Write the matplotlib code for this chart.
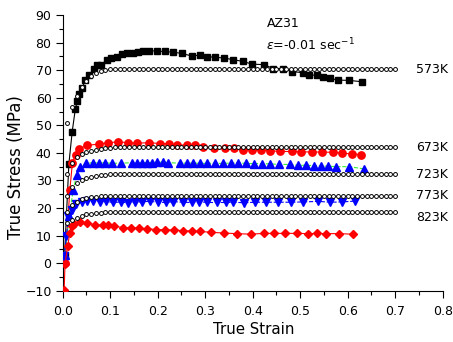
import matplotlib
matplotlib.use("Agg")
import matplotlib.pyplot as plt
from matplotlib.ticker import MultipleLocator

plt.rcParams['font.family'] = ['DejaVu Sans']

# ---------------- data ----------------
# 573K experimental (black squares)
e573 = [0.004, 0.013, 0.020, 0.0266, 0.031, 0.035, 0.041, 0.0476, 0.056, 0.066, 0.0716, 0.081,
        0.0926, 0.102, 0.114, 0.125, 0.136, 0.147, 0.1585, 0.170, 0.182, 0.198, 0.215, 0.232,
        0.251, 0.272, 0.288, 0.304, 0.321, 0.340, 0.359, 0.379, 0.3985, 0.424, 0.443, 0.464,
        0.483, 0.505, 0.519, 0.536, 0.549, 0.563, 0.580, 0.603, 0.630]
s573 = [3.0, 36.0, 47.7, 55.9, 58.8, 61.2, 63.7, 66.3, 68.4, 70.5, 71.7, 72.0,
        73.6, 74.5, 74.9, 75.7, 76.1, 76.3, 76.7, 77.0, 77.1, 76.9, 76.8, 76.5,
        76.1, 75.1, 75.5, 74.9, 74.7, 74.4, 73.8, 73.2, 72.2, 72.0, 70.6, 70.6,
        69.5, 69.1, 68.3, 68.1, 67.4, 67.0, 66.4, 66.3, 65.8]

# 673K experimental (red circles)
e673 = [0.005, 0.015, 0.0203, 0.027, 0.0336, 0.0505, 0.0758, 0.096, 0.117, 0.137, 0.157, 0.181,
        0.205, 0.224, 0.241, 0.261, 0.2785, 0.296, 0.3185, 0.342, 0.361, 0.379, 0.398, 0.4175,
        0.4365, 0.4575, 0.482, 0.502, 0.525, 0.546, 0.568, 0.589, 0.608, 0.629]
s673 = [0.0, 26.5, 36.2, 39.3, 41.4, 42.7, 43.2, 43.7, 44.0, 43.7, 43.5, 43.7,
        43.4, 43.3, 42.9, 42.8, 42.7, 42.0, 41.9, 41.6, 41.6, 41.2, 41.0, 41.0,
        40.8, 40.5, 40.5, 40.4, 40.3, 40.3, 40.2, 39.8, 39.7, 39.3]

# 723K experimental (blue up triangles)
e723 = [0.004, 0.014, 0.022, 0.0295, 0.036, 0.049, 0.063, 0.076, 0.090, 0.104, 0.122, 0.145,
        0.156, 0.166, 0.177, 0.188, 0.199, 0.211, 0.222, 0.247, 0.261, 0.275, 0.289, 0.304,
        0.321, 0.337, 0.354, 0.370, 0.386, 0.403, 0.419, 0.436, 0.456, 0.4785, 0.496, 0.512,
        0.529, 0.543, 0.559, 0.575, 0.603, 0.634]
s723 = [3.0, 17.0, 26.5, 31.8, 35.0, 36.2, 36.4, 36.3, 36.4, 36.2, 36.3, 36.4,
        36.5, 36.4, 36.5, 36.5, 36.6, 36.6, 36.5, 36.2, 36.3, 36.3, 36.2, 36.2,
        36.2, 36.2, 36.3, 36.3, 36.2, 36.1, 36.1, 36.0, 35.8, 35.8, 35.5, 35.5,
        35.4, 35.2, 35.2, 35.0, 35.0, 34.2]

# 773K experimental (blue down triangles)
e773 = [0.003, 0.008, 0.012, 0.019, 0.028, 0.040, 0.052, 0.064, 0.0786, 0.091, 0.1066, 0.122,
        0.138, 0.152, 0.168, 0.184, 0.201, 0.2175, 0.233, 0.2526, 0.2716, 0.2876, 0.304, 0.324,
        0.344, 0.359, 0.382, 0.405, 0.428, 0.454, 0.480, 0.5065, 0.538, 0.563, 0.587, 0.615]
s773 = [2.5, 10.0, 17.0, 19.1, 21.3, 22.3, 22.6, 22.6, 22.3, 22.4, 22.0, 22.2,
        21.8, 22.1, 22.3, 22.4, 22.1, 22.0, 22.3, 22.1, 22.0, 22.3, 22.0, 22.0,
        22.0, 22.1, 21.9, 22.1, 22.1, 22.1, 22.1, 22.2, 22.4, 22.1, 22.2, 22.5]

# 823K experimental (red diamonds)
e823 = [0.003, 0.005, 0.0105, 0.015, 0.019, 0.0245, 0.036, 0.052, 0.068, 0.084, 0.096, 0.108,
        0.1276, 0.144, 0.161, 0.178, 0.196, 0.216, 0.234, 0.254, 0.272, 0.289, 0.3116, 0.340,
        0.3676, 0.396, 0.424, 0.445, 0.468, 0.4926, 0.517, 0.536, 0.554, 0.582, 0.6105]
s823 = [-9.9, -0.2, 6.2, 11.0, 13.4, 14.3, 14.9, 14.4, 14.0, 13.7, 13.7, 13.4,
        12.9, 12.8, 12.7, 12.5, 12.2, 12.1, 12.0, 11.8, 11.6, 11.5, 11.2, 10.9,
        10.7, 10.5, 10.8, 10.8, 10.8, 10.8, 10.7, 10.8, 10.7, 10.7, 10.5]

# model predictions (open circles), strain grid
em = [0.01, 0.02, 0.03, 0.04, 0.05, 0.06, 0.07, 0.08, 0.09, 0.10,
      0.11, 0.12, 0.13, 0.14, 0.15, 0.16, 0.17, 0.18, 0.19, 0.20,
      0.21, 0.22, 0.23, 0.24, 0.25, 0.26, 0.27, 0.28, 0.29, 0.30,
      0.31, 0.32, 0.33, 0.34, 0.35, 0.36, 0.37, 0.38, 0.39, 0.40,
      0.41, 0.42, 0.43, 0.44, 0.45, 0.46, 0.47, 0.48, 0.49, 0.50,
      0.51, 0.52, 0.53, 0.54, 0.55, 0.56, 0.57, 0.58, 0.59, 0.60,
      0.61, 0.62, 0.63, 0.64, 0.65, 0.66, 0.67, 0.68, 0.69, 0.70]
m573 = [50.9, 56.5, 60.5, 63.9, 66.2, 67.9, 69.0, 69.7, 70.1, 70.4,
        70.5, 70.5, 70.6, 70.6, 70.6, 70.6, 70.6, 70.6, 70.6, 70.6,
        70.6, 70.6, 70.6, 70.6, 70.6, 70.6, 70.6, 70.6, 70.6, 70.6,
        70.6, 70.6, 70.6, 70.6, 70.6, 70.6, 70.6, 70.6, 70.6, 70.6,
        70.6, 70.6, 70.6, 70.6, 70.6, 70.6, 70.6, 70.6, 70.6, 70.6,
        70.6, 70.6, 70.6, 70.6, 70.6, 70.6, 70.6, 70.6, 70.6, 70.6,
        70.6, 70.6, 70.6, 70.6, 70.6, 70.6, 70.6, 70.6, 70.6, 70.6]
m673 = [32.4, 36.3, 38.5, 39.6, 40.3, 40.8, 41.2, 41.5, 41.7, 41.9,
        42.0, 42.1, 42.2, 42.2, 42.3, 42.3, 42.3, 42.3, 42.3, 42.3,
        42.3, 42.3, 42.3, 42.3, 42.3, 42.3, 42.3, 42.3, 42.3, 42.3,
        42.3, 42.3, 42.3, 42.3, 42.3, 42.3, 42.3, 42.3, 42.3, 42.3,
        42.3, 42.3, 42.3, 42.3, 42.3, 42.3, 42.3, 42.3, 42.3, 42.3,
        42.3, 42.3, 42.3, 42.3, 42.3, 42.3, 42.3, 42.3, 42.3, 42.3,
        42.3, 42.3, 42.3, 42.3, 42.3, 42.3, 42.3, 42.3, 42.3, 42.3]
m723 = [24.5, 27.5, 29.2, 30.2, 30.9, 31.4, 31.7, 31.9, 32.1, 32.2,
        32.3, 32.3, 32.3, 32.3, 32.3, 32.3, 32.3, 32.3, 32.3, 32.3,
        32.3, 32.3, 32.3, 32.3, 32.3, 32.3, 32.3, 32.3, 32.3, 32.3,
        32.3, 32.3, 32.3, 32.3, 32.3, 32.3, 32.3, 32.3, 32.3, 32.3,
        32.3, 32.3, 32.3, 32.3, 32.3, 32.3, 32.3, 32.3, 32.3, 32.3,
        32.3, 32.3, 32.3, 32.3, 32.3, 32.3, 32.3, 32.3, 32.3, 32.3,
        32.3, 32.3, 32.3, 32.3, 32.3, 32.3, 32.3, 32.3, 32.3, 32.3]
m773 = [18.6, 21.0, 22.3, 23.1, 23.6, 23.9, 24.1, 24.3, 24.4, 24.4,
        24.4, 24.4, 24.4, 24.4, 24.4, 24.4, 24.4, 24.4, 24.4, 24.4,
        24.4, 24.4, 24.4, 24.4, 24.4, 24.4, 24.4, 24.4, 24.4, 24.4,
        24.4, 24.4, 24.4, 24.4, 24.4, 24.4, 24.4, 24.4, 24.4, 24.4,
        24.4, 24.4, 24.4, 24.4, 24.4, 24.4, 24.4, 24.4, 24.4, 24.4,
        24.4, 24.4, 24.4, 24.4, 24.4, 24.4, 24.4, 24.4, 24.4, 24.4,
        24.4, 24.4, 24.4, 24.4, 24.4, 24.4, 24.4, 24.4, 24.4, 24.4]
m823 = [14.7, 15.6, 16.5, 17.2, 17.7, 18.0, 18.2, 18.3, 18.4, 18.4,
        18.4, 18.4, 18.4, 18.4, 18.4, 18.4, 18.4, 18.4, 18.4, 18.4,
        18.4, 18.4, 18.4, 18.4, 18.4, 18.4, 18.4, 18.4, 18.4, 18.4,
        18.4, 18.4, 18.4, 18.4, 18.4, 18.4, 18.4, 18.4, 18.4, 18.4,
        18.4, 18.4, 18.4, 18.4, 18.4, 18.4, 18.4, 18.4, 18.4, 18.4,
        18.4, 18.4, 18.4, 18.4, 18.4, 18.4, 18.4, 18.4, 18.4, 18.4,
        18.4, 18.4, 18.4, 18.4, 18.4, 18.4, 18.4, 18.4, 18.4, 18.4]

temp_labels = ["573K", "673K", "723K", "773K", "823K"]
temp_label_y = [70.2, 41.9, 32.2, 24.6, 16.7]

# ---------------- plot ----------------
fig = plt.figure(figsize=(4.53, 3.42), dpi=100)
ax = fig.add_axes([0.1384, 0.15, 0.8389, 0.806])

ax.plot(e573, s573, color='black', lw=0.8, marker='s', ms=4.5, mfc='black', mec='black', zorder=3)
ax.plot(e673, s673, color='red', lw=0.8, marker='o', ms=5.3, mfc='red', mec='red', zorder=3)
ax.plot(e723, s723, color='#33ee33', lw=0.8, ls='--', marker='^', ms=5.2,
        mfc='blue', mec='blue', zorder=3)
ax.plot(e773, s773, color='blue', lw=0.8, ls='--', marker='v', ms=5.2, mfc='blue', mec='blue', zorder=3)
ax.plot(e823, s823, color='red', lw=0.8, marker='D', ms=4.5, mfc='red', mec='red', zorder=3)

for m in (m573, m673, m723, m773, m823):
    ax.plot(em, m, ls='none', marker='o', ms=2.8, mfc='white', mec='black', mew=0.7, zorder=4)

ax.set_xlim(0, 0.8)
ax.set_ylim(-10, 90)
ax.spines['top'].set_visible(False)
ax.spines['right'].set_visible(False)
ax.xaxis.set_major_locator(MultipleLocator(0.1))
ax.xaxis.set_minor_locator(MultipleLocator(0.05))
ax.yaxis.set_major_locator(MultipleLocator(10))
ax.yaxis.set_minor_locator(MultipleLocator(5))
ax.tick_params(which='major', direction='out', length=5, width=0.8, labelsize=9)
ax.tick_params(which='minor', direction='out', length=3, width=0.8)
ax.tick_params(axis='x', pad=5)
ax.tick_params(axis='y', pad=3)
ax.set_xticklabels([f"{v:.1f}" for v in ax.get_xticks()])

ax.set_xlabel("True Strain", fontsize=10.8)
ax.set_ylabel("True Stress (MPa)", fontsize=12)
ax.xaxis.set_label_coords(0.503, -0.112)
ax.yaxis.set_label_coords(-0.099, 0.447)

ax.text(0.429, 86.8, "AZ31", fontsize=9, ha='left', va='center')
ax.text(0.429, 79.0, r"$\varepsilon$=-0.01 sec$^{\mathregular{-1}}$", fontsize=9, ha='left', va='center')

for lab, y in zip(temp_labels, temp_label_y):
    ax.text(0.744, y, lab, fontsize=9, ha='left', va='center', clip_on=False)

fig.savefig("out.png", dpi=100)
